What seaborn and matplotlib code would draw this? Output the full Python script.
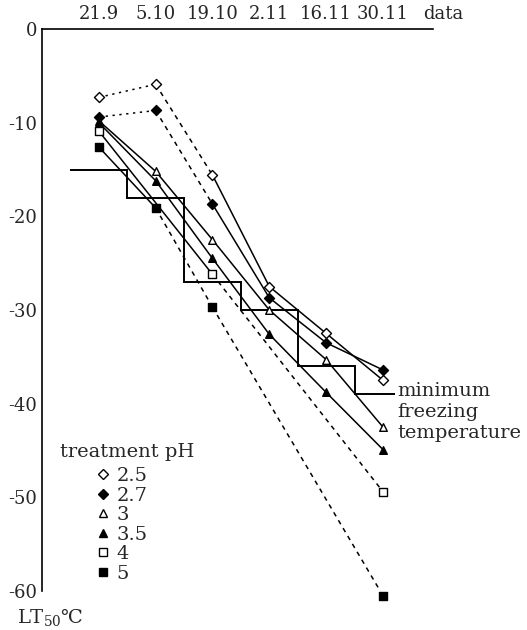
import numpy as np
import pandas as pd
import matplotlib
matplotlib.use("Agg")
import matplotlib.pyplot as plt
from matplotlib.lines import Line2D
import seaborn as sns

dates = ["21.9", "5.10", "19.10", "2.11", "16.11", "30.11"]
ph_labels = ["2.5", "2.7", "3", "3.5", "4", "5"]

lt_ph25 = [-7.3, -5.9, -15.6, -27.5, -32.5, -37.5]
lt_ph27 = [-9.4, -8.7, -18.7, -28.7, -33.5, -36.4]
lt_ph3 = [-9.8, -15.2, -22.5, -30.0, -35.3, -42.5]
lt_ph35 = [-10.0, -16.2, -24.5, -32.6, -38.8, -44.9]
lt_ph4 = [-10.9, np.nan, -26.2, np.nan, np.nan, -49.4]
lt_ph5 = [-12.6, -19.1, -29.7, np.nan, np.nan, -60.5]

min_freezing = [-15, -18, -27, -30, -36, -39]

series = [lt_ph25, lt_ph27, lt_ph3, lt_ph35, lt_ph4, lt_ph5]
# line style of each segment between consecutive measured points
seg_styles = [
    [":", "--", "-", "-", "-"],
    [":", "--", "-", "-", "-"],
    ["-", "-", "-", "-", "-"],
    ["-", "-", "-", "-", "-"],
    ["-", "--"],
    ["-", "--", "--"],
]
dash_map = {"-": "solid", ":": (0, (1.5, 3)), "--": (0, (3, 3))}
markers = ["D", "D", "^", "^", "s", "s"]
filled = [False, True, False, True, False, True]
sizes = [26, 26, 30, 30, 34, 40]

rows = []
for lab, vals in zip(ph_labels, series):
    for i, v in enumerate(vals):
        if not np.isnan(v):
            rows.append({"pH": lab, "idx": i, "LT50": v})
df = pd.DataFrame(rows)

sns.set_style("white")
plt.rcParams["font.family"] = ["DejaVu Serif"]
plt.rcParams["mathtext.fontset"] = "dejavuserif"
plt.rcParams["axes.unicode_minus"] = False

fig = plt.figure(figsize=(5.27, 6.30), dpi=100)
ax = fig.add_axes([42 / 527, 1 - 591 / 630, (433 - 42) / 527, (591 - 29) / 630])

# minimum freezing temperature step line
edges = np.concatenate([np.arange(len(dates)) - 0.5, [len(dates) - 1 + 0.21]])
ax.stairs(min_freezing, edges, baseline=None, color="black", lw=1.4, zorder=1)

for lab, styles, mk, fl, sz in zip(ph_labels, seg_styles, markers, filled, sizes):
    sub = df[df["pH"] == lab].reset_index(drop=True)
    for k, ls in enumerate(styles):
        seg = sub.iloc[k:k + 2]
        sns.lineplot(data=seg, x="idx", y="LT50", ax=ax, color="black", lw=1.1,
                     sort=False, estimator=None, zorder=2,
                     linestyle=dash_map[ls])
    sns.scatterplot(data=sub, x="idx", y="LT50", ax=ax, marker=mk, s=sz,
                    facecolor="black" if fl else "white", edgecolor="black",
                    linewidth=1.0, zorder=3, clip_on=False, legend=False)

ax.set_xlim(-1.0, 5.88)
ax.set_ylim(-60, 0)
ax.set_xlabel("")
ax.set_ylabel("")
ax.xaxis.tick_top()
ax.set_xticks(range(len(dates)))
ax.set_xticklabels(dates)
ax.tick_params(axis="x", length=0, pad=4, labelsize=13)
ax.set_yticks(range(0, -61, -10))
ax.tick_params(axis="y", direction="inout", length=5, width=1, pad=1, labelsize=13)
for side in ["right", "bottom"]:
    ax.spines[side].set_visible(False)
for side in ["left", "top"]:
    ax.spines[side].set_linewidth(1.2)
    ax.spines[side].set_color("black")

ax.text(1.026, 1.027, "data", transform=ax.transAxes, ha="center", va="center", fontsize=13)
ax.text(5.26, -40.9, "minimum\nfreezing\ntemperature", ha="left", va="center",
        fontsize=14, linespacing=1.2)
ax.text(-0.687, -45.2, "treatment pH", ha="left", va="center", fontsize=14)
fig.text(17 / 527, 1 - 617 / 630, "LT$_{50}$℃", ha="left", va="center", fontsize=14)

handles = [Line2D([], [], ls="none", marker=mk, color="black",
                  markerfacecolor="black" if fl else "white",
                  markersize=5.5)
           for mk, fl in zip(markers, filled)]
ax.legend(handles, ph_labels, loc="upper left", frameon=False, fontsize=14,
          bbox_to_anchor=(97 / 527, 1 - 467 / 630), bbox_transform=fig.transFigure,
          borderpad=0, borderaxespad=0, handlelength=0.6, handletextpad=0.4,
          labelspacing=0.08)

fig.savefig("out.png", dpi=100)
